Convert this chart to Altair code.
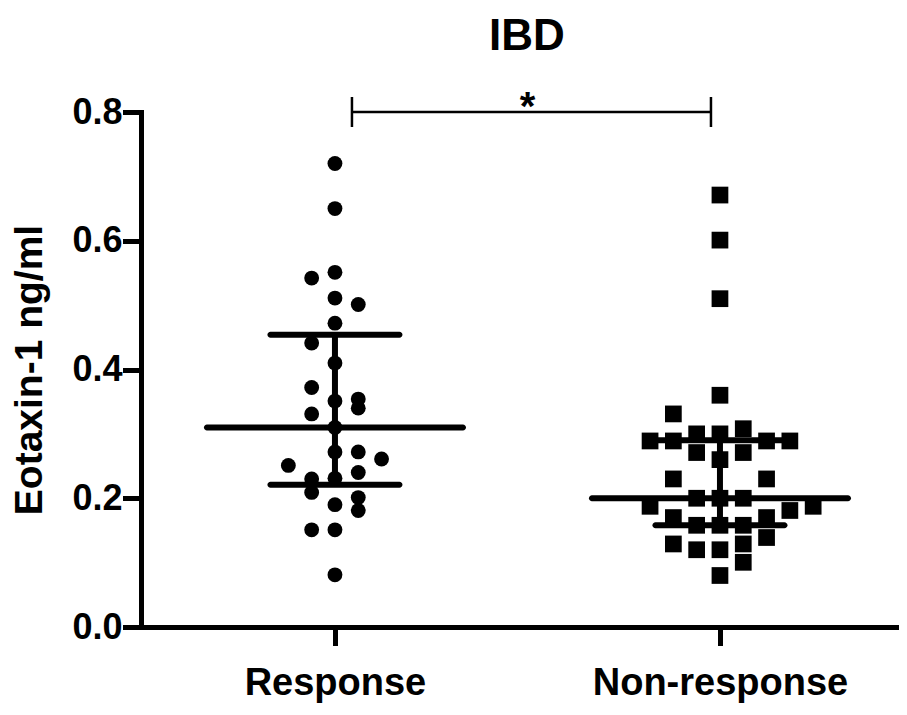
import altair as alt
import pandas as pd

FONT = "Liberation Sans"

groups = ["Response", "Non-response"]

resp_values = [0.72, 0.65, 0.542, 0.551, 0.511, 0.501, 0.472, 0.441, 0.41, 0.372,
               0.351, 0.354, 0.34, 0.331, 0.31, 0.272, 0.272, 0.261, 0.251, 0.24,
               0.23, 0.231, 0.209, 0.201, 0.19, 0.181, 0.151, 0.151, 0.081]
resp_slots = [0, 0, -1, 0, 0, 1, 0, -1, 0, -1,
              0, 1, 1, -1, 0, 0, 1, 2, -2, 1,
              -1, 0, -1, 1, 0, 1, -1, 0, 0]

nonresp_values = [0.671, 0.601, 0.510, 0.360, 0.331, 0.289, 0.289, 0.300, 0.271, 0.300,
                  0.260, 0.308, 0.271, 0.289, 0.289, 0.230, 0.230, 0.200, 0.200, 0.200,
                  0.1875, 0.1875, 0.181, 0.170, 0.170, 0.158, 0.158, 0.158, 0.139, 0.129,
                  0.120, 0.120, 0.129, 0.1005, 0.080]
nonresp_slots = [0, 0, 0, 0, -2, -3, -2, -1, -1, 0,
                 0, 1, 1, 2, 3, -2, 2, -1, 0, 1,
                 -3, 4, 3, -2, 2, -1, 0, 1, 2, -2,
                 -1, 0, 1, 1, 0]

medians = [0.310, 0.200]
q1 = [0.221, 0.158]
q3 = [0.454, 0.290]

bracket_from = ["Response"]
bracket_to = ["Non-response"]
bracket_y = [0.8]
bracket_label = ["*"]

points = pd.DataFrame({
    "group": ["Response"] * len(resp_values) + ["Non-response"] * len(nonresp_values),
    "value": resp_values + nonresp_values,
    "slot": resp_slots + nonresp_slots,
})
stats = pd.DataFrame({"group": groups, "median": medians, "q1": q1, "q3": q3})
bracket = pd.DataFrame({"from": bracket_from, "to": bracket_to, "y": bracket_y, "label": bracket_label})

x_scale = alt.Scale(type="point", domain=groups, padding=0.4844, align=0.52)
x_axis = alt.Axis(title=None, labelAngle=0, labelFont=FONT, labelFontSize=38,
                  labelFontWeight="bold", labelColor="black", labelPadding=21, labelLimit=0,
                  tickSize=16, tickWidth=5, tickColor="black", tickCap="square",
                  domainWidth=5, domainColor="black", domainCap="square", grid=False)
y_scale = alt.Scale(domain=[0, 0.8], nice=False, zero=True)
y_axis = alt.Axis(title="Eotaxin-1 ng/ml", values=[0, 0.2, 0.4, 0.6, 0.8], format=".1f",
                  labelFont=FONT, labelFontSize=36, labelFontWeight="bold", labelColor="black",
                  labelPadding=3, tickSize=16, tickWidth=5, tickColor="black", tickCap="square",
                  domainWidth=5, domainColor="black", domainCap="square", grid=False,
                  titleFont=FONT, titleFontSize=39, titleFontWeight="bold", titleColor="black",
                  titlePadding=22)

X = alt.X("group:N", scale=x_scale, axis=x_axis)

pts = alt.Chart(points).mark_point(filled=True, opacity=1, color="black").encode(
    x=X,
    xOffset=alt.XOffset("slot:Q", scale=alt.Scale(domain=[-1, 1], range=[-23.3, 23.3])),
    y=alt.Y("value:Q", scale=y_scale, axis=y_axis),
    shape=alt.Shape("group:N", scale=alt.Scale(domain=groups, range=["circle", "square"]), legend=None),
    size=alt.Size("group:N", scale=alt.Scale(domain=groups, range=[220, 280]), legend=None),
)

med = alt.Chart(stats).mark_tick(orient="horizontal", size=262, thickness=6, color="black",
                                 cornerRadius=3, opacity=1).encode(
    x=alt.X("group:N", scale=x_scale), y=alt.Y("median:Q", scale=y_scale))
lowq = alt.Chart(stats).mark_tick(orient="horizontal", size=135, thickness=6, color="black",
                                  cornerRadius=3, opacity=1).encode(
    x=alt.X("group:N", scale=x_scale), y=alt.Y("q1:Q", scale=y_scale))
highq = alt.Chart(stats).mark_tick(orient="horizontal", size=135, thickness=6, color="black",
                                   cornerRadius=3, opacity=1).encode(
    x=alt.X("group:N", scale=x_scale), y=alt.Y("q3:Q", scale=y_scale))
vert = alt.Chart(stats).mark_rule(strokeWidth=6, color="black").encode(
    x=alt.X("group:N", scale=x_scale), y=alt.Y("q1:Q", scale=y_scale), y2="q3:Q")

br_line = alt.Chart(bracket).mark_rule(strokeWidth=2.5, color="black", xOffset=17, x2Offset=-9).encode(
    x=alt.X("from:N", scale=x_scale), x2="to:N", y=alt.Y("y:Q", scale=y_scale))
br_left = alt.Chart(bracket).mark_tick(orient="vertical", size=30, thickness=2.5, color="black",
                                       opacity=1, xOffset=17).encode(
    x=alt.X("from:N", scale=x_scale), y=alt.Y("y:Q", scale=y_scale))
br_right = alt.Chart(bracket).mark_tick(orient="vertical", size=30, thickness=2.5, color="black",
                                        opacity=1, xOffset=-9).encode(
    x=alt.X("to:N", scale=x_scale), y=alt.Y("y:Q", scale=y_scale))
star = alt.Chart(bracket).mark_text(font=FONT, fontSize=40, fontWeight="bold", color="black",
                                    baseline="alphabetic", align="center", dx=192.5, dy=8).encode(
    x=alt.X("from:N", scale=x_scale), y=alt.Y("y:Q", scale=y_scale), text="label:N")

chart = alt.layer(pts, med, lowq, highq, vert, br_line, br_left, br_right, star).properties(
    width=758, height=515,
    background="white",
    padding={"left": 133, "top": 104, "right": 0, "bottom": 80},
    autosize=alt.AutoSizeParams(type="none"),
    title=alt.TitleParams("IBD", font=FONT, fontSize=44, fontWeight="bold", color="black",
                          anchor="middle", dx=7, baseline="alphabetic", offset=-6),
).configure_view(stroke=None)

chart.save("out.html", embed_options={"renderer": "svg", "actions": False})
